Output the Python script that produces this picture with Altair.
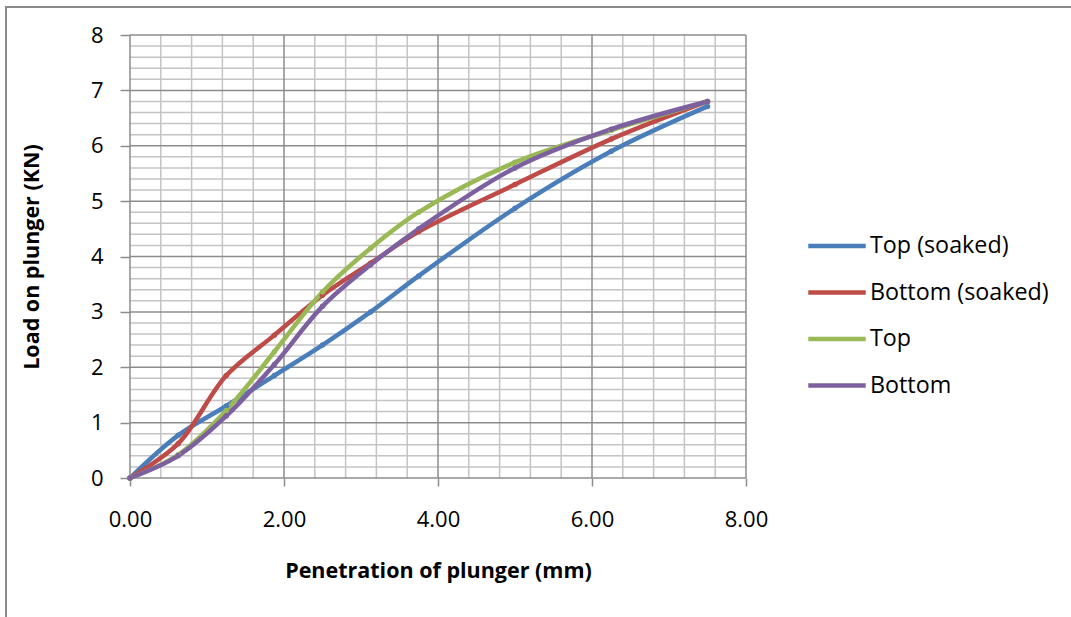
import altair as alt
import pandas as pd

# Penetration of plunger (mm)
penetration = [0, 0.625, 1.25, 1.875, 2.5, 3.125, 3.75, 5.0, 6.25, 7.5]
# Load on plunger (KN)
top_soaked = [0, 0.77, 1.30, 1.85, 2.40, 3.00, 3.65, 4.87, 5.90, 6.71]
bottom_soaked = [0, 0.62, 1.85, 2.58, 3.30, 3.88, 4.45, 5.30, 6.12, 6.80]
top = [0, 0.42, 1.22, 2.28, 3.36, 4.15, 4.80, 5.70, 6.28, 6.80]
bottom = [0, 0.40, 1.12, 2.05, 3.10, 3.85, 4.50, 5.60, 6.30, 6.80]

series_names = ["\u00a0Top (soaked)", "\u00a0Bottom (soaked)", "Top", "Bottom"]
series_colors = ["#4A7EBB", "#BE4B48", "#98B954", "#7D60A0"]

x_major = [0, 2, 4, 6, 8]
y_major = [0, 1, 2, 3, 4, 5, 6, 7, 8]
x_minor = [0.4, 0.8, 1.2, 1.6, 2.4, 2.8, 3.2, 3.6, 4.4, 4.8, 5.2, 5.6, 6.4, 6.8, 7.2, 7.6]
y_minor = [v / 5 for v in range(0, 41) if v % 5 != 0]

rows = []
for name, vals in zip(series_names, [top_soaked, bottom_soaked, top, bottom]):
    for xv, yv in zip(penetration, vals):
        rows.append({"x": xv, "y": yv, "series": name})
df = pd.DataFrame(rows)

FONT = "Open Sans"
W, H = 616, 443

xs = alt.Scale(domain=[0, 8], nice=False, zero=False)
ys = alt.Scale(domain=[0, 8], nice=False, zero=False)

x_axis = alt.Axis(
    values=x_major, format=".2f", title="Penetration of plunger (mm)",
    grid=False, domain=False, tickSize=8, tickColor="#8C8C8C", tickWidth=1.5,
    labelPadding=23, labelFont=FONT, labelFontSize=22, labelColor="black",
    labelFlush=False, labelOverlap=False,
    titleFont=FONT, titleFontSize=21.5, titleFontWeight="bold", titleColor="black",
    titlePadding=30)
y_axis = alt.Axis(
    values=y_major, format="d", title="Load on plunger (KN)",
    grid=False, domain=False, tickSize=10, tickColor="#8C8C8C", tickWidth=1.5,
    labelPadding=17, labelFont=FONT, labelFontSize=22, labelColor="black",
    labelFlush=False, labelOverlap=False,
    titleFont=FONT, titleFontSize=21.5, titleFontWeight="bold", titleColor="black",
    titlePadding=47)

def xe(field):
    return alt.X(field, scale=xs, axis=x_axis)

def ye(field):
    return alt.Y(field, scale=ys, axis=y_axis)

grid_x_minor = alt.Chart(pd.DataFrame({"x": x_minor})).mark_rule(
    color="#C4C4C4", strokeWidth=1.5).encode(x=xe("x:Q"))
grid_y_minor = alt.Chart(pd.DataFrame({"y": y_minor})).mark_rule(
    color="#C4C4C4", strokeWidth=1.5).encode(y=ye("y:Q"))
grid_x_major = alt.Chart(pd.DataFrame({"x": x_major})).mark_rule(
    color="#8C8C8C", strokeWidth=1.5).encode(x=xe("x:Q"))
grid_y_major = alt.Chart(pd.DataFrame({"y": y_major})).mark_rule(
    color="#8C8C8C", strokeWidth=1.5).encode(y=ye("y:Q"))

color = alt.Color(
    "series:N",
    scale=alt.Scale(domain=series_names, range=series_colors),
    sort=series_names,
    legend=alt.Legend(
        title=None, orient="none", legendX=676, legendY=180,
        symbolType="stroke", symbolSize=3300, symbolStrokeWidth=4.5,
        labelFont=FONT, labelFontSize=23.3, labelColor="black",
        rowPadding=3.5, labelOffset=2, labelLimit=300,
    ),
)

lines = alt.Chart(df).mark_line(interpolate="catmull-rom", strokeWidth=4.5).encode(
    x=xe("x:Q"), y=ye("y:Q"), color=color, order=alt.Order("x:Q"))
points = alt.Chart(df).mark_point(filled=True, size=30, opacity=1).encode(
    x=xe("x:Q"), y=ye("y:Q"),
    color=alt.Color("series:N", scale=alt.Scale(domain=series_names, range=series_colors), legend=None))

frame_top = alt.Chart(pd.DataFrame({"a": [0]})).mark_rule(color="#8A8A8A", strokeWidth=2).encode(
    x=alt.value(-125), x2=alt.value(941), y=alt.value(-28))
frame_left = alt.Chart(pd.DataFrame({"a": [0]})).mark_rule(color="#8A8A8A", strokeWidth=2).encode(
    x=alt.value(-124), y=alt.value(-29), y2=alt.value(600))

chart = alt.layer(
    grid_x_minor, grid_y_minor, grid_x_major, grid_y_major, lines, points, frame_top, frame_left
).properties(
    width=W, height=H,
    autosize=alt.AutoSizeParams(type="none"),
    padding={"left": 130, "top": 35, "right": 1071 - 130 - W, "bottom": 617 - 35 - H},
    background="white",
).configure_view(stroke=None)

chart.save("out.html", embed_options={"renderer": "svg", "actions": False})
